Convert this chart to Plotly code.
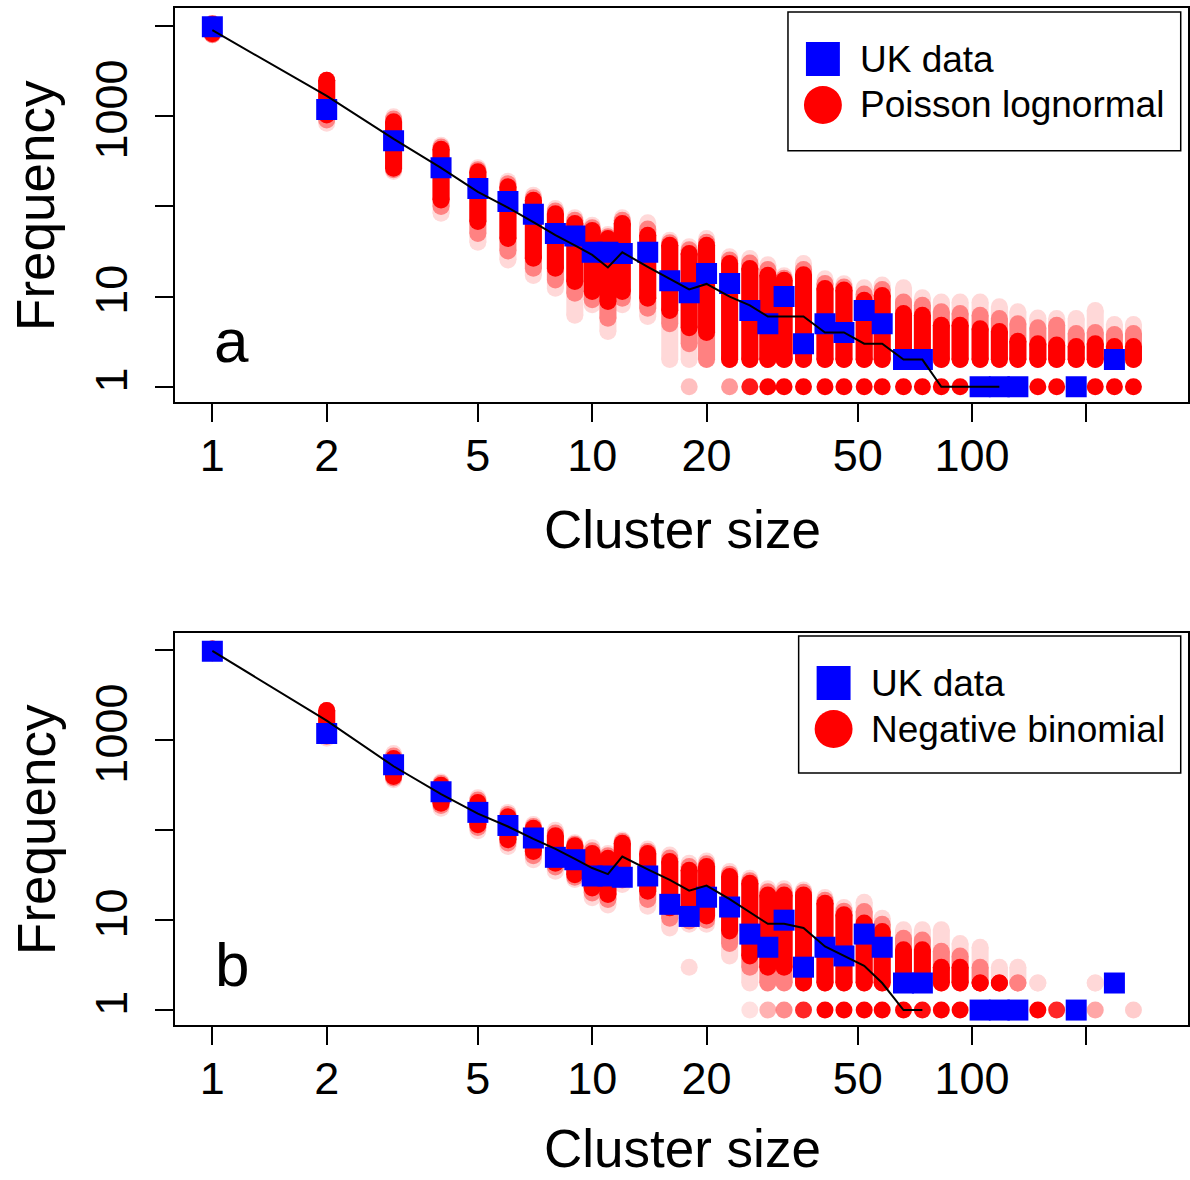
import plotly.graph_objects as go

W, H = 1190, 1180
FONT = "Liberation Sans, Arial, Helvetica, sans-serif"

# ---------------- data ----------------
sizes = [1, 2, 3, 4, 5, 6, 7, 8, 9, 10, 11, 12, 14, 16, 18, 20, 23, 26, 29, 32, 36, 41,
         46, 52, 58, 66, 74, 83, 93, 105, 118, 132, 149, 167, 188, 211, 237, 266]

uk_size = [1, 2, 3, 4, 5, 6, 7, 8, 9, 10, 11, 12, 14, 16, 18, 20, 23, 26, 29, 32, 36, 41,
           46, 52, 58, 66, 74, 105, 118, 132, 188, 237]
uk_freq = [9800, 1190, 535, 268, 158, 113, 82, 50, 47, 31, 31, 30, 31, 15, 11, 18, 14, 7,
           5, 10, 3, 5, 4, 7, 5, 2, 2, 1, 1, 1, 1, 2]

line_a_size = sizes[:31]
line_a_val = [9000, 1680, 560, 268, 145, 97, 67, 48, 37, 29, 21, 31, 21.4, 15.8, 12, 13.8,
              10, 8, 6, 6, 6, 4, 4, 3, 3, 2, 2, 1, 1, 1, 1]
line_b_size = sizes[:27]
line_b_val = [9870, 1657, 515, 252, 153, 110, 80, 62, 48, 38, 32.5, 51, 36.8, 28, 21.3,
              24.2, 17.1, 12.2, 9.1, 9.1, 8.2, 5.1, 4.0, 3.1, 2.0, 1, 1]

# simulated spread, Poisson lognormal (panel a): frequency ranges per column
a_faint_lo = [8000, 836, 244, 84, 40, 25.5, 17.1, 12.4, 6.2, 8.1, 4.1, 8.1, 6.0, 2, 2, 2,
              2, 2, 2, 2, 2, 2, 2, 2, 2, 2, 2, 2, 2, 2, 2, 2, 2, 2, 2, 2, 2, 2]
a_faint_hi = [10700, 2500, 985, 477, 268, 190, 133, 94.7, 74.7, 61.8, 48.7, 74.7, 66, 42,
              35.6, 44, 27.6, 26.4, 22.6, 17, 23.2, 15.8, 13.9, 12.5, 13.4, 12.5, 9.7, 8.7,
              8.7, 8.7, 7.7, 6.8, 5.8, 5.7, 5.7, 7.0, 4.9, 4.9]
a_mid_lo = [8000, 908, 255, 100, 50, 32, 20.6, 15.3, 10.9, 9.2, 5.75, 9.6, 7.4, 5, 3, 2,
            2, 2, 2, 2, 2, 2, 2, 2, 2, 2, 2, 2, 2, 2, 2, 2, 2, 2, 2, 2, 2, 2]
a_mid_hi = [10700, 2500, 930, 455, 255, 178, 125, 89, 70, 58, 46, 70, 56, 39.5, 33, 40,
            25.5, 23.5, 20, 16, 20, 14, 12.8, 10.7, 12, 8.7, 8.0, 6.8, 6.5, 6.2, 5.7, 5.0,
            4.5, 4.8, 3.9, 4.0, 3.8, 3.9]
a_core_lo = [8200, 1030, 265, 118, 68, 44, 26.6, 20.6, 14.7, 11.4, 8.8, 11.4, 9.6, 7, 4.5,
             4, 2, 2, 2, 2, 2, 2, 2, 2, 2, 2, 2, 2, 2, 2, 2, 2, 2, 2, 2, 2, 2, 2]
a_core_hi = [10500, 2500, 866, 430, 242, 165, 117, 83, 64.5, 54, 44, 64.5, 47.9, 37, 30,
             37, 23.2, 20.5, 17.2, 15.2, 17.5, 12.3, 11.8, 9.1, 10.3, 6.5, 6.2, 4.8, 4.8,
             4.4, 4.1, 3.2, 3.0, 2.9, 2.8, 3.0, 2.8, 2.8]
a_one = [0] * 14 + [0.25, 0, 0.4, 0.9] + [1] * 20
a_extra_x, a_extra_y, a_extra_a = [], [], []

# simulated spread, negative binomial (panel b)
N = None
b_faint_lo = [9400, 1052, 364, 176, 99, 66, 47, 35, 28.3, 17.7, 14.7, 24.9, 14.3, 8.2, 9.0,
              9.0, 4.0, 2, 2, 2, 2, 2, 2, 2, 2, 2, 2, 2, 2, 2, 2, 2, 2, N, N, 2, N, N]
b_faint_hi = [10400, 2150, 712, 345, 230, 158, 116, 100, 72.8, 64, 55, 77.8, 61.8, 53,
              42.9, 45.5, 34.7, 29.3, 22.3, 22.3, 21.7, 17.9, 13.8, 15.8, 10.5, 7.8, 7.8,
              7.8, 5.5, 5, 3, 3, 2, N, N, 2, N, N]
b_mid_lo = [9400, 1100, 380, 188, 107, 72, 52, 39, 30, 20, 17, 28, 17, 10.5, 9.8, 10, 5.5,
            3, 2, 2, 2, 2, 2, 2, 2, 2, 2, 2, 2, 2, N, 2, N, N, N, N, N, N]
b_mid_hi = [10400, 2150, 670, 330, 217, 150, 110, 93, 70, 59, 52, 75, 58, 49, 39.5, 42.5,
            32.5, 27.5, 20.7, 20.7, 20.4, 16.6, 12.6, 12.5, 9, 6.3, 6.0, 4.5, 4, 3, N, 2,
            N, N, N, N, N, N]
b_core_lo = [9400, 1150, 396, 200, 115, 78.6, 58, 43, 32, 22.8, 19.3, 32, 21, 13.7, 10.6,
             11.1, 7.6, 4, 3, 3, 2, 2, 2, 2, 2, 2, 2, 2, 2, 2, 2, N, N, N, N, N, N, N]
b_core_hi = [10400, 2150, 627, 317, 204, 141, 105, 87, 67.4, 55, 48.7, 71.5, 55, 44.8, 36,
             39.4, 30.5, 25.7, 19.1, 19.1, 19.1, 15.4, 11.5, 9.3, 7.5, 4.7, 4.7, 3, 3, 2, 2,
             N, N, N, N, N, N, N]
b_one = ([0] * 17 + [0.12, 0.3, 0.45, 0.85] + [1, 1, 1, 1] + [1, 0.95, 1, 1, 1, 1, 1]
         + [1, 0.85, 1, 0.35, 0, 0.2])
b_extra_x, b_extra_y, b_extra_a = [18], [3], [0.15]

x_tickvals = [1, 2, 5, 10, 20, 50, 100, 200]
x_ticktext = ["1", "2", "5", "10", "20", "50", "100", ""]
y_tickvals = [1, 10, 100, 1000, 10000]
y_ticktext = ["1", "10", "", "1000", ""]

# ---------------- layout helpers ----------------
def px(x):
    return x / W

def py(y):
    return 1 - y / H

RED = "#ff0000"
BLUE = "#0000ff"
DOT = 17

fig = go.Figure()


def band(lo, hi, op, xa, ya):
    xs, ys = [], []
    for s, l, h in zip(sizes, lo, hi):
        if l is None or h is None:
            continue
        xs += [s, s, None]
        ys += [l, h, None]
    fig.add_trace(go.Scatter(x=xs, y=ys, mode="lines+markers",
                             line=dict(color=RED, width=DOT),
                             marker=dict(color=RED, size=DOT),
                             opacity=op, xaxis=xa, yaxis=ya,
                             hoverinfo="skip", showlegend=False))


def panel(xa, ya, flo, fhi, mlo, mhi, clo, chi, one, ex, ey, ea, lsz, lval):
    band(flo, fhi, 0.15, xa, ya)
    band(mlo, mhi, 0.4, xa, ya)
    band(clo, chi, 1.0, xa, ya)
    ox = [s for s, a in zip(sizes, one) if a > 0]
    oa = [a for a in one if a > 0]
    fig.add_trace(go.Scatter(x=ox, y=[1] * len(ox), mode="markers",
                             marker=dict(color=RED, size=DOT, opacity=oa),
                             xaxis=xa, yaxis=ya, hoverinfo="skip", showlegend=False))
    if ex:
        fig.add_trace(go.Scatter(x=ex, y=ey, mode="markers",
                                 marker=dict(color=RED, size=DOT, opacity=ea),
                                 xaxis=xa, yaxis=ya, hoverinfo="skip", showlegend=False))
    fig.add_trace(go.Scatter(x=uk_size, y=uk_freq, mode="markers",
                             marker=dict(color=BLUE, size=21, symbol="square"),
                             xaxis=xa, yaxis=ya, showlegend=False))
    fig.add_trace(go.Scatter(x=lsz, y=lval, mode="lines",
                             line=dict(color="black", width=2),
                             xaxis=xa, yaxis=ya, showlegend=False))


panel("x", "y", a_faint_lo, a_faint_hi, a_mid_lo, a_mid_hi, a_core_lo, a_core_hi, a_one,
      a_extra_x, a_extra_y, a_extra_a, line_a_size, line_a_val)
panel("x2", "y2", b_faint_lo, b_faint_hi, b_mid_lo, b_mid_hi, b_core_lo, b_core_hi, b_one,
      b_extra_x, b_extra_y, b_extra_a, line_b_size, line_b_val)

x_left = 175
x_range = [(x_left - 212.7) / 380.5, (W - 212.7) / 380.5]
y_range = [-0.166, 4.197]

common_x = dict(type="log", range=x_range, domain=[px(x_left), 1.0],
                tickmode="array", tickvals=x_tickvals, ticktext=x_ticktext,
                ticks="outside", ticklen=18, tickwidth=2, tickcolor="black",
                showline=True, linewidth=2, linecolor="black", mirror=True,
                showgrid=False, zeroline=False, ticklabelstandoff=-5,
                tickfont=dict(family=FONT, size=45, color="black"))
common_y = dict(type="log", range=y_range,
                tickmode="array", tickvals=y_tickvals, ticktext=y_ticktext,
                ticks="outside", ticklen=18, tickwidth=2, tickcolor="black",
                showline=True, linewidth=2, linecolor="black", mirror=True,
                showgrid=False, zeroline=False, tickangle=-90, ticklabelstandoff=10,
                tickfont=dict(family=FONT, size=45, color="black"))

fig.update_layout(
    width=W, height=H, margin=dict(l=0, r=0, t=0, b=0),
    paper_bgcolor="white", plot_bgcolor="white",
    font=dict(family=FONT, color="black"),
    xaxis=dict(common_x, anchor="y"),
    yaxis=dict(common_y, anchor="x", domain=[py(401.7), py(8.3)]),
    xaxis2=dict(common_x, anchor="y2"),
    yaxis2=dict(common_y, anchor="x2", domain=[py(1025), py(632.7)]),
)

ann = []
shapes = []
for off, name, lbl, title_y in [(0, "Poisson lognormal", "a", 529),
                                (624, "Negative binomial", "b", 1148)]:
    ann.append(dict(x=px(36), y=py(205 + off), xref="paper", yref="paper",
                    text="Frequency", textangle=-90, showarrow=False,
                    font=dict(size=53), xanchor="center", yanchor="middle"))
    ann.append(dict(x=px(684), y=py(title_y), xref="paper", yref="paper",
                    text="Cluster size", showarrow=False,
                    font=dict(size=53), xanchor="center", yanchor="middle"))
    ann.append(dict(x=px(232), y=py(340 + off), xref="paper", yref="paper",
                    text=lbl, showarrow=False,
                    font=dict(size=62), xanchor="center", yanchor="middle"))
    # legend
    if off == 0:
        bx0, bx1, by0, by1, sx, tx = 789.3, 1182.7, 12, 150.7, 824.3, 859
    else:
        bx0, bx1, by0, by1, sx, tx = 800, 1182.7, 636, 773, 835, 870
    r1 = by0 + 47
    r2 = r1 + 46
    shapes.append(dict(type="rect", xref="paper", yref="paper",
                       x0=px(bx0), x1=px(bx1), y0=py(by0), y1=py(by1),
                       line=dict(color="black", width=1.5), fillcolor="white", layer="above"))
    shapes.append(dict(type="rect", xref="paper", yref="paper",
                       x0=px(sx - 17), x1=px(sx + 17), y0=py(r1 - 17), y1=py(r1 + 17),
                       line=dict(width=0), fillcolor=BLUE, layer="above"))
    shapes.append(dict(type="circle", xref="paper", yref="paper",
                       x0=px(sx - 19), x1=px(sx + 19), y0=py(r2 - 19), y1=py(r2 + 19),
                       line=dict(width=0), fillcolor=RED, layer="above"))
    ann.append(dict(x=px(tx), y=py(r1), xref="paper", yref="paper", text="UK data",
                    showarrow=False, font=dict(size=37), xanchor="left", yanchor="middle"))
    ann.append(dict(x=px(tx), y=py(r2), xref="paper", yref="paper", text=name,
                    showarrow=False, font=dict(size=37), xanchor="left", yanchor="middle"))

fig.update_layout(annotations=ann, shapes=shapes)
fig.write_html("out.html")
